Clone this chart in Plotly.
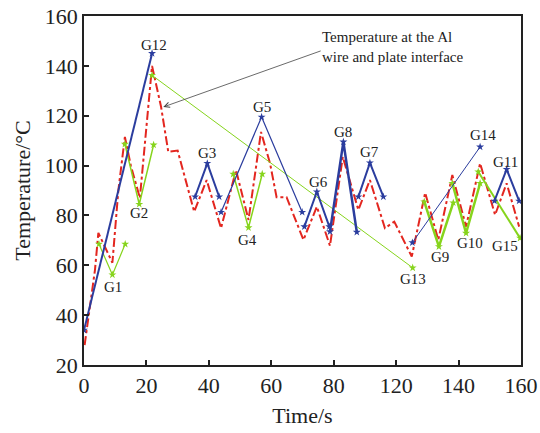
import plotly.graph_objects as go

# x positions are in evenly spaced axis units (0..140); the original axis
# labels read 0,20,40,60,80,120,140,160 (no 100 tick)
tick_vals = [0, 20, 40, 60, 80, 100, 120, 140]
tick_text = ["0", "20", "40", "60", "80", "120", "140", "160"]
y_ticks = [20, 40, 60, 80, 100, 120, 140, 160]

# interface temperature (red dash-dot)
iface_t = [0.2, 2.5, 3.5, 4.6, 6.5, 9.1, 11.0, 13.1, 15.0, 17.9, 21.8, 24.7, 27.0,
           30.0, 35.3, 39.3, 43.9, 48.7, 52.7, 56.7, 59.6, 61.7, 64.9, 70.3, 74.6,
           78.8, 82.9, 87.9, 91.6, 96.4, 99.4, 105.0, 109.3, 113.5, 118.0, 122.4,
           126.9, 131.7, 135.4, 139.4]
iface_T = [28, 50, 58, 73, 68, 61, 90, 111.5, 100, 87, 140, 123.5, 105.5,
           106, 81.5, 94.2, 74.9, 98.2, 78.2, 113.5, 100.9, 87.3, 87.3, 70.2, 83.5,
           67.8, 103.5, 82.2, 94.2, 74.9, 77.5, 63.5, 89.1, 70.2, 96.2, 75.5,
           100.9, 80.2, 92.9, 75.5]

# blue measured segments
blue_names = ["G12", "G3", "G5", "G6", "G8", "G7", "G14", "G11"]
blue_t = [[0, 21.8], [35.6, 39.5, 43.3], [43.9, 56.9, 69.9], [70.6, 74.6, 78.6],
          [78.8, 83.1, 87.4], [87.9, 91.6, 95.9], [105.2, 126.9], [131.5, 135.4, 139.4]]
blue_T = [[34, 145], [87.5, 100.9, 87.5], [81.3, 119.5, 81.3], [75.5, 89.5, 75.5],
          [73.5, 109.5, 73.3], [87.5, 101.1, 87.5], [69.1, 107.5], [85.8, 98.5, 85.8]]
blue_w = [2, 2, 1.2, 2, 2.5, 2, 1, 2]

# green measured segments
green_names = ["G1", "G2", "G13", "G4", "G9", "G10", "G15"]
green_t = [[4.8, 9.1, 13.2], [13.1, 17.7, 22.3], [21.8, 105.3], [47.8, 52.7, 57.1],
           [109.0, 113.7, 118.3], [118.0, 122.4, 126.9], [126.3, 139.7]]
green_T = [[68.5, 56.2, 68.5], [108.6, 84.5, 108.3], [136.2, 59], [96.6, 75.1, 96.6],
           [85.5, 67.5, 85.1], [92.9, 72.9, 92.9], [97.5, 70.9]]
green_w = [1.2, 1.5, 1, 1.5, 2.5, 2.5, 2]

# label positions
label_names = ["G12", "G3", "G5", "G6", "G8", "G7", "G14", "G11",
               "G1", "G2", "G4", "G13", "G9", "G10", "G15"]
label_t = [22.4, 39.4, 57.0, 75.1, 83.1, 91.6, 127.9, 134.9,
           9.2, 17.7, 52.3, 105.3, 114.1, 123.5, 134.9]
label_T = [148.2, 105, 123.4, 93.5, 113.5, 105.5, 112.2, 101.5,
           51.1, 80.9, 70.2, 54.5, 63.5, 68.9, 67.9]

BLUE = "#2b3d9e"
GREEN = "#86d41c"
RED = "#e3261f"
FONT = "Liberation Serif"

fig = go.Figure()
fig.add_trace(go.Scatter(x=iface_t, y=iface_T, mode="lines",
                         line=dict(color=RED, width=2, dash="dashdot"),
                         showlegend=False, hoverinfo="skip"))
for t, T, w in zip(green_t, green_T, green_w):
    fig.add_trace(go.Scatter(x=t, y=T, mode="lines+markers",
                             line=dict(color=GREEN, width=w),
                             marker=dict(symbol="star", size=6, color=GREEN),
                             showlegend=False))
for t, T, w in zip(blue_t, blue_T, blue_w):
    fig.add_trace(go.Scatter(x=t, y=T, mode="lines+markers",
                             line=dict(color=BLUE, width=w),
                             marker=dict(symbol="star", size=6, color=BLUE),
                             showlegend=False))

for name, t, T in zip(label_names, label_t, label_T):
    fig.add_annotation(x=t, y=T, text=name, showarrow=False,
                       font=dict(family=FONT, size=15, color="#222"))

fig.add_annotation(x=75.6, y=147.5, xanchor="left", yanchor="middle", align="left",
                   text="Temperature at the Al<br>wire and plate interface",
                   showarrow=False, font=dict(family=FONT, size=15, color="#222"))
fig.add_annotation(x=25.4, y=123.5, ax=76.3, ay=146.2, axref="x", ayref="y",
                   text="", showarrow=True, arrowhead=5, arrowsize=1.3,
                   arrowwidth=0.8, arrowcolor="#444")

axis_common = dict(showline=True, mirror=True, linecolor="#222", linewidth=1.5,
                   ticks="inside", ticklen=5, tickwidth=1.5, tickcolor="#222",
                   showgrid=False, zeroline=False, automargin=False,
                   tickfont=dict(family=FONT, size=22, color="#222"))
fig.update_xaxes(range=[0, 140], tickvals=tick_vals, ticktext=tick_text,
                 title=dict(text="Time/s", font=dict(family=FONT, size=22, color="#222"),
                            standoff=10), **axis_common)
fig.update_yaxes(range=[20, 160], tickvals=y_ticks,
                 title=dict(text="Temperature/°C", font=dict(family=FONT, size=22, color="#222"),
                            standoff=8), **axis_common)
fig.update_layout(width=540, height=433, margin=dict(l=84, r=19, t=16, b=68, autoexpand=False),
                  plot_bgcolor="white", paper_bgcolor="white", showlegend=False)
fig.write_html("out.html", config={"displayModeBar": False},
               post_script="document.body.style.margin='0';")
